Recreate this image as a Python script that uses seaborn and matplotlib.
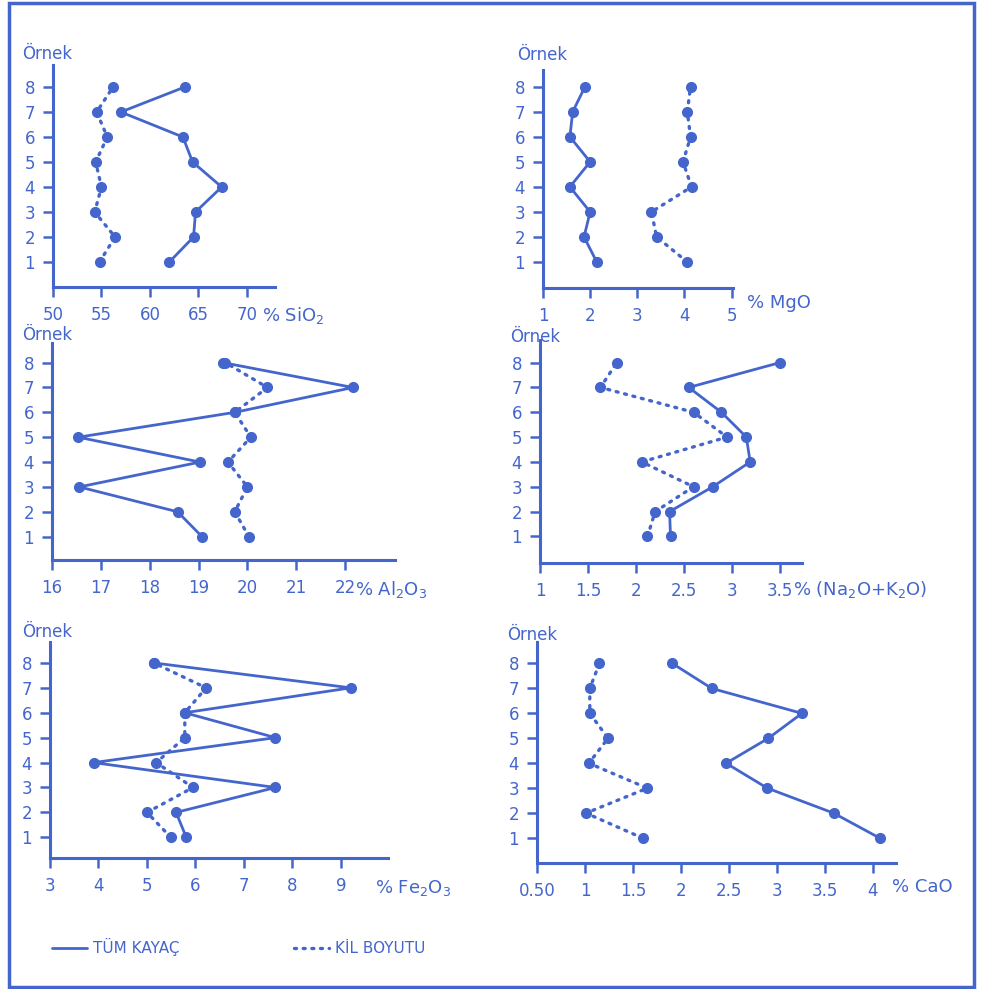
import matplotlib
matplotlib.use("Agg")
import matplotlib.pyplot as plt
import seaborn as sns
from matplotlib.lines import Line2D
from matplotlib.patches import Rectangle

# sample numbers (Örnek)
samples = [1, 2, 3, 4, 5, 6, 7, 8]

# whole rock (TÜM KAYAÇ) and clay fraction (KİL BOYUTU), values for samples 1..8
sio2_rock = [62.0, 64.5, 64.7, 67.4, 64.4, 63.4, 57.0, 63.6]
sio2_clay = [54.8, 56.4, 54.3, 55.0, 54.4, 55.6, 54.5, 56.2]

mgo_rock = [2.14, 1.87, 2.0, 1.57, 2.0, 1.57, 1.63, 1.89]
mgo_clay = [4.06, 3.41, 3.30, 4.15, 3.97, 4.13, 4.06, 4.13]

al2o3_rock = [19.07, 18.57, 16.56, 19.03, 16.54, 19.74, 22.16, 19.5]
al2o3_clay = [20.03, 19.74, 20.0, 19.6, 20.07, 19.74, 20.41, 19.55]

alk_rock = [2.36, 2.35, 2.80, 3.19, 3.15, 2.89, 2.55, 3.50]
alk_clay = [2.12, 2.20, 2.60, 2.06, 2.95, 2.60, 1.63, 1.80]

fe2o3_rock = [5.81, 5.60, 7.65, 3.90, 7.65, 5.78, 9.20, 5.14]
fe2o3_clay = [5.49, 5.00, 5.95, 5.19, 5.78, 5.78, 6.22, 5.14]

cao_rock = [4.07, 3.59, 2.90, 2.47, 2.91, 3.26, 2.32, 1.91]
cao_clay = [1.60, 1.01, 1.65, 1.04, 1.24, 1.05, 1.05, 1.15]

sio2_ticks = [50, 55, 60, 65, 70]
sio2_labels = ["50", "55", "60", "65", "70"]
mgo_ticks = [1, 2, 3, 4, 5]
mgo_labels = ["1", "2", "3", "4", "5"]
al2o3_ticks = [16, 17, 18, 19, 20, 21, 22]
al2o3_labels = ["16", "17", "18", "19", "20", "21", "22"]
alk_ticks = [1, 1.5, 2, 2.5, 3, 3.5]
alk_labels = ["1", "1.5", "2", "2.5", "3", "3.5"]
fe2o3_ticks = [3, 4, 5, 6, 7, 8, 9]
fe2o3_labels = ["3", "4", "5", "6", "7", "8", "9"]
cao_ticks = [0.5, 1, 1.5, 2, 2.5, 3, 3.5, 4]
cao_labels = ["0.50", "1", "1.5", "2", "2.5", "3", "3.5", "4"]

legend_labels = ["TÜM KAYAÇ", "KİL BOYUTU"]

BLUE = "#4466cc"
DOTS = (0, (0.6, 2.0))
W, H = 987, 989

sns.set_style("ticks")
plt.rcParams["font.family"] = ["DejaVu Sans"]
plt.rcParams["text.color"] = BLUE
plt.rcParams["axes.edgecolor"] = BLUE
plt.rcParams["xtick.color"] = BLUE
plt.rcParams["ytick.color"] = BLUE

fig = plt.figure(figsize=(W / 100, H / 100), dpi=100)
fig.patch.set_facecolor("white")

# panels: rock, clay, ticks, labels, xlim, ylim, pixel box (left, top, right, bottom),
# x label, x label offset, "Örnek" offset
panels = [
    (sio2_rock, sio2_clay, sio2_ticks, sio2_labels, (50, 72.9), (0, 8.88),
     (53, 65, 275, 287), "% SiO$_2$", (-13, -28), (-31, 11)),
    (mgo_rock, mgo_clay, mgo_ticks, mgo_labels, (1, 5.03), (-0.04, 8.67),
     (543, 70, 733, 288), "% MgO", (14, -15), (-26, 15)),
    (al2o3_rock, al2o3_clay, al2o3_ticks, al2o3_labels, (16, 23.02), (0.06, 8.79),
     (52, 343, 395, 560), "% Al$_2$O$_3$", (-40, -30), (-30, 8)),
    (alk_rock, alk_clay, alk_ticks, alk_labels, (1, 3.73), (-0.07, 8.91),
     (540, 340, 802, 563), "% (Na$_2$O+K$_2$O)", (-9, -27), (-30, 3)),
    (fe2o3_rock, fe2o3_clay, fe2o3_ticks, fe2o3_labels, (3, 9.97), (0.17, 8.84),
     (50, 642, 388, 858), "% Fe$_2$O$_3$", (-13, -30), (-28, 10)),
    (cao_rock, cao_clay, cao_ticks, cao_labels, (0.5, 4.24), (0, 8.86),
     (537, 642, 896, 863), "% CaO", (-4, -24), (-30, 7)),
]

for rock, clay, ticks, labels, xlim, ylim, box, name, off, off_y in panels:
    l, t, r, b = box
    ax = fig.add_axes([l / W, 1 - b / H, (r - l) / W, (b - t) / H])
    sns.lineplot(x=rock, y=samples, sort=False, estimator=None, ax=ax,
                 color=BLUE, lw=2.0, marker="o", markersize=7,
                 mec=BLUE, mfc=BLUE, mew=1)
    sns.lineplot(x=clay, y=samples, sort=False, estimator=None, ax=ax,
                 color=BLUE, lw=2.4, linestyle=DOTS,
                 dash_capstyle="round", marker="o", markersize=7,
                 mec=BLUE, mfc=BLUE, mew=1)
    ax.set_xlim(*xlim)
    ax.set_ylim(*ylim)
    ax.set_xticks(ticks)
    ax.set_xticklabels(labels)
    ax.set_yticks(samples)
    ax.set_yticklabels([str(s) for s in samples])
    ax.set_xlabel("")
    ax.set_ylabel("")
    sns.despine(ax=ax)
    for sp in ("left", "bottom"):
        ax.spines[sp].set_linewidth(2.2)
        ax.spines[sp].set_color(BLUE)
    ax.tick_params(axis="both", length=7, width=1.8, labelsize=12, colors=BLUE)
    ax.tick_params(axis="x", pad=7)
    ax.tick_params(axis="y", pad=6)
    ax.patch.set_alpha(0)
    ax.annotate("Örnek", xy=(0, 1), xycoords="axes fraction", xytext=off_y,
                textcoords="offset pixels", ha="left", va="center",
                fontsize=12, color=BLUE)
    ax.annotate(name, xy=(1, 0), xycoords="axes fraction", xytext=off,
                textcoords="offset pixels", ha="left", va="center",
                fontsize=13, color=BLUE)

# frame around the figure
fig.add_artist(Rectangle((9 / W, 1 - 987 / H), 965 / W, 984 / H, fill=False,
                         ec=BLUE, lw=2.5, transform=fig.transFigure))

handles = [Line2D([], [], color=BLUE, lw=2.0),
           Line2D([], [], color=BLUE, lw=2.4, linestyle=DOTS,
                  dash_capstyle="round")]
fig.legend(handles, legend_labels, loc="center left",
           bbox_to_anchor=(38 / W, 1 - 947 / H), ncol=2, frameon=False,
           handlelength=2.3, handletextpad=0.4, columnspacing=7.5,
           fontsize=11, labelcolor=BLUE)

fig.savefig("out.png", dpi=100, facecolor="white")
